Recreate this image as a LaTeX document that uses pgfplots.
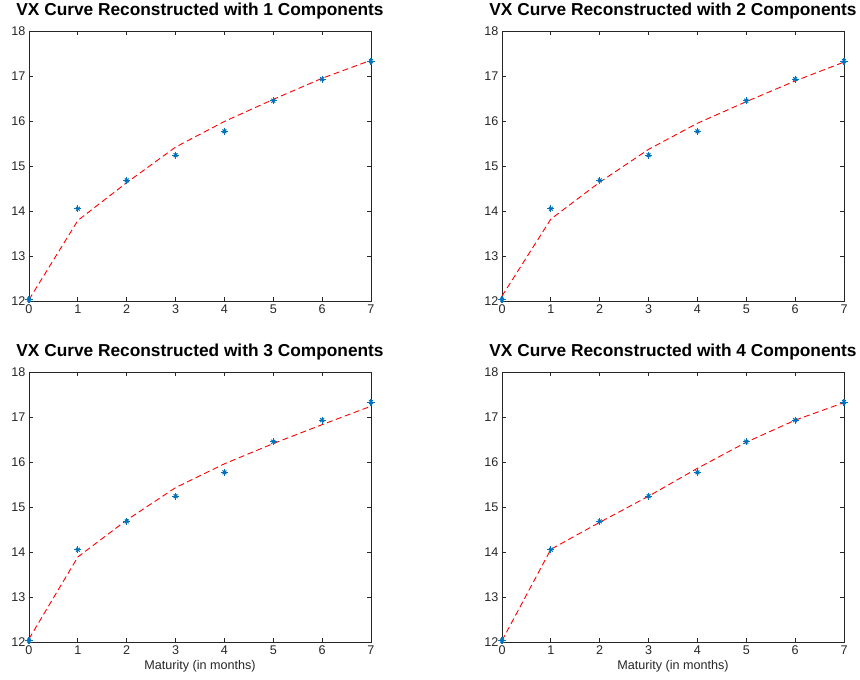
\documentclass[border=0pt]{standalone}
\usepackage{pgfplots}
\pgfplotsset{compat=1.18}
\usepackage{fontspec}
\setmainfont{Liberation Sans}
\definecolor{mblue}{RGB}{0,114,189}
\definecolor{axgray}{RGB}{38,38,38}
\pgfplotsset{
  vxstyle/.style={
    scale only axis, width=342pt, height=270pt,
    xmin=0, xmax=7, ymin=12, ymax=18,
    xtick={0,1,...,7}, ytick={12,13,...,18},
    axis line style={axgray, line width=0.8pt},
    major tick style={axgray, line width=0.8pt},
    major tick length=4pt,
    tick align=inside,
    tick label style={font=\fontsize{12.6}{14}\selectfont, text=axgray},
    /pgf/number format/assume math mode=true,
    title style={font=\fontsize{17.3}{20}\selectfont\bfseries, at={(0.5,1)}, anchor=base, yshift=9.5pt},
    xlabel style={font=\fontsize{12.6}{14}\selectfont, text=axgray, at={(axis description cs:0.5,0)}, anchor=base, yshift=-28pt},
    clip=false,
  },
  obs/.style={only marks, mblue, line width=1.1pt, mark size=3.6pt},
  fit/.style={red, line width=0.9pt, dash pattern=on 6pt off 3.5pt, no marks},
}
\pgfplotstableread{
x y
0 12.03
1 14.05
2 14.68
3 15.24
4 15.77
5 16.45
6 16.93
7 17.33
}\obsdata
\pgfplotstableread{
x y
0 12.03
1 13.79
2 14.63
3 15.42
4 15.99
5 16.48
6 16.95
7 17.35
}\fitone
\pgfplotstableread{
x y
0 12.11
1 13.82
2 14.64
3 15.37
4 15.95
5 16.43
6 16.89
7 17.31
}\fittwo
\pgfplotstableread{
x y
0 12.07
1 13.89
2 14.71
3 15.43
4 15.96
5 16.41
6 16.83
7 17.24
}\fitthree
\pgfplotstableread{
x y
0 12.03
1 14.06
2 14.66
3 15.24
4 15.86
5 16.44
6 16.93
7 17.32
}\fitfour
\begin{document}
\begin{tikzpicture}[x=1pt,y=1pt]
\path[use as bounding box] (0,0) rectangle (860,680);
\begin{axis}[vxstyle, at={(29pt,379pt)}, anchor=south west,
  title={VX Curve Reconstructed with 1 Components}]
\addplot[obs, mark=+] table[x=x,y=y] {\obsdata};
\addplot[obs, mark=x, mark size=2.7pt] table[x=x,y=y] {\obsdata};
\addplot[fit] table[x=x,y=y] {\fitone};
\end{axis}
\begin{axis}[vxstyle, at={(502pt,379pt)}, anchor=south west,
  title={VX Curve Reconstructed with 2 Components}]
\addplot[obs, mark=+] table[x=x,y=y] {\obsdata};
\addplot[obs, mark=x, mark size=2.7pt] table[x=x,y=y] {\obsdata};
\addplot[fit] table[x=x,y=y] {\fittwo};
\end{axis}
\begin{axis}[vxstyle, at={(29pt,38pt)}, anchor=south west,
  title={VX Curve Reconstructed with 3 Components},
  xlabel={Maturity (in months)}]
\addplot[obs, mark=+] table[x=x,y=y] {\obsdata};
\addplot[obs, mark=x, mark size=2.7pt] table[x=x,y=y] {\obsdata};
\addplot[fit] table[x=x,y=y] {\fitthree};
\end{axis}
\begin{axis}[vxstyle, at={(502pt,38pt)}, anchor=south west,
  title={VX Curve Reconstructed with 4 Components},
  xlabel={Maturity (in months)}]
\addplot[obs, mark=+] table[x=x,y=y] {\obsdata};
\addplot[obs, mark=x, mark size=2.7pt] table[x=x,y=y] {\obsdata};
\addplot[fit] table[x=x,y=y] {\fitfour};
\end{axis}
\end{tikzpicture}
\end{document}
